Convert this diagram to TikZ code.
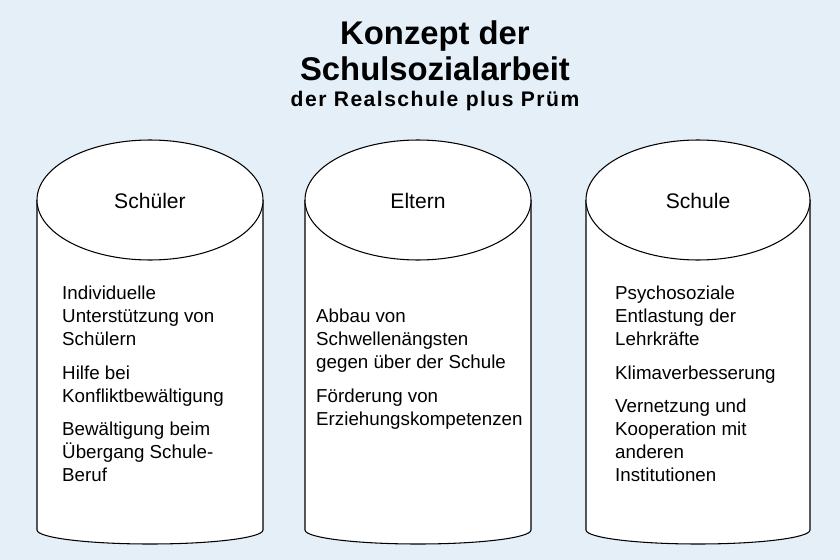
\documentclass[tikz,border=0pt]{standalone}
\usepackage{fontspec}
\setmainfont{Liberation Sans}
\newfontfamily\widefont[LetterSpace=7]{Liberation Sans}
\definecolor{bgblue}{HTML}{E4EFF8}
\tikzset{
  drum/.style={draw=black, line width=0.9pt, fill=white},
  head/.style={font=\fontsize{18}{21}\selectfont},
  body/.style={anchor=north west, align=left, inner sep=0pt,
    font=\fontsize{16}{19.6}\selectfont}
}
\newcommand{\pgap}{\\[9pt]}
\begin{document}
\begin{tikzpicture}[x=0.03cm, y=-0.03cm]
\fill[bgblue] (0,0) rectangle (840,560);
\useasboundingbox (0,0) rectangle (840,560);
% Title
\node[font=\bfseries\fontsize{28}{30}\selectfont] (t1) at (435,36) {Konzept der};
\node[font=\bfseries\fontsize{28}{30}\selectfont] (t2) at (435,69) {Schulsozialarbeit};
\node[font=\widefont\bfseries\fontsize{18}{21}\selectfont] (t3) at (435,101) {der Realschule plus Prüm};
% Cylinders
\foreach \cx/\rx/\name in {150/113/schueler, 418/113/eltern, 698/112/schule}{
  \fill[white] (\cx-\rx,200) -- (\cx-\rx,530) arc[start angle=180, end angle=360, x radius=\rx, y radius=-14] -- (\cx+\rx,200) -- cycle;
  \draw[drum] (\cx-\rx,200) -- (\cx-\rx,530) arc[start angle=180, end angle=360, x radius=\rx, y radius=-14] -- (\cx+\rx,200);
  \draw[drum] (\cx,200) ellipse[x radius=\rx, y radius=60];
  \coordinate (\name) at (\cx,200);
}
% Headings
\node[head] (hs) at (150,201) {Schüler};
\node[head] (he) at (418,201) {Eltern};
\node[head] (hu) at (698,201) {Schule};
% Texts
\node[body] (ts) at (62,286) {Individuelle\\Unterstützung von\\Schülern\pgap
  Hilfe bei\\Konfliktbewältigung\pgap
  Bewältigung beim\\Übergang Schule-\\Beruf};
\node[body] (te) at (316,309) {Abbau von\\Schwellenängsten\\gegen über der Schule\pgap
  Förderung von\\Erziehungskompetenzen};
\node[body] (tu) at (615,286) {Psychosoziale\\Entlastung der\\Lehrkräfte\pgap
  Klimaverbesserung\pgap
  Vernetzung und\\Kooperation mit\\anderen\\Institutionen};
\end{tikzpicture}
\end{document}
